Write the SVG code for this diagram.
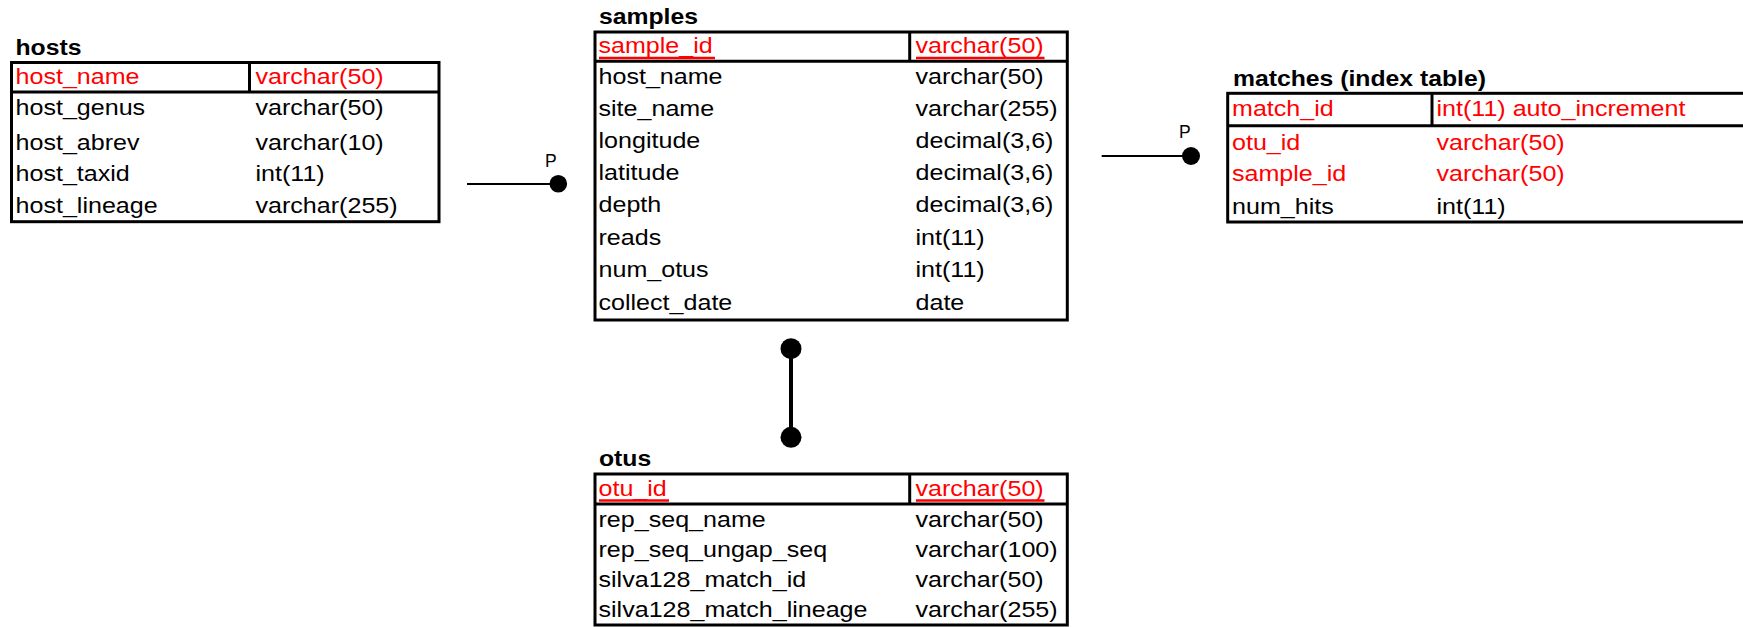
<svg xmlns="http://www.w3.org/2000/svg" width="1743" height="627" viewBox="0 0 1743 627">
<style>
text{font-family:"Liberation Sans",Arial,sans-serif}
.t{font-size:22.5px;fill:#000}
.k{fill:#ff0000}
.ti{font-size:22.5px;font-weight:bold;fill:#000}
.box{fill:none;stroke:#000;stroke-width:3}
.ul{stroke:#ff0000;stroke-width:2.4}
.p{font-size:17.5px;fill:#000}
</style>
<rect x="0" y="0" width="1743" height="627" fill="#fff"/>

<g id="hosts">
  <g transform="translate(15.5,55) scale(1.1,1)"><text class="ti" x="0" y="0">hosts</text></g>
  <rect class="box" x="11.5" y="62.5" width="427.5" height="159.2"/>
  <line class="box" x1="11.5" y1="92" x2="439" y2="92"/>
  <line class="box" x1="249.5" y1="62.5" x2="249.5" y2="92"/>
  <g transform="translate(15.5,0) scale(1.115,1)" class="t">
    <text class="t k" x="0" y="84.5">host_name</text>
    <text class="t" x="0" y="115.5">host_genus</text>
    <text class="t" x="0" y="150">host_abrev</text>
    <text class="t" x="0" y="181.5">host_taxid</text>
    <text class="t" x="0" y="213.5">host_lineage</text>
  </g>
  <g transform="translate(255.5,0) scale(1.115,1)">
    <text class="t k" x="0" y="84.5">varchar(50)</text>
    <text class="t" x="0" y="115.5">varchar(50)</text>
    <text class="t" x="0" y="150">varchar(10)</text>
    <text class="t" x="0" y="181">int(11)</text>
    <text class="t" x="0" y="213.5">varchar(255)</text>
  </g>
</g>

<g id="samples">
  <g transform="translate(599,23.5) scale(1.1,1)"><text class="ti" x="0" y="0">samples</text></g>
  <rect class="box" x="595" y="32" width="472.3" height="288"/>
  <line class="box" x1="595" y1="61.3" x2="1067.3" y2="61.3"/>
  <line class="box" x1="909.7" y1="32" x2="909.7" y2="61.3"/>
  <g transform="translate(598.5,0) scale(1.115,1)">
    <text class="t k" x="0" y="53.5">sample_id</text>
    <text class="t" x="0" y="84">host_name</text>
    <text class="t" x="0" y="116">site_name</text>
    <text class="t" x="0" y="148">longitude</text>
    <text class="t" x="0" y="180.5">latitude</text>
    <text class="t" x="0" y="212.5">depth</text>
    <text class="t" x="0" y="245">reads</text>
    <text class="t" x="0" y="277.5">num_otus</text>
    <text class="t" x="0" y="310">collect_date</text>
  </g>
  <g transform="translate(915.5,0) scale(1.115,1)">
    <text class="t k" x="0" y="53.5">varchar(50)</text>
    <text class="t" x="0" y="84">varchar(50)</text>
    <text class="t" x="0" y="116">varchar(255)</text>
    <text class="t" x="0" y="148">decimal(3,6)</text>
    <text class="t" x="0" y="180.5">decimal(3,6)</text>
    <text class="t" x="0" y="212.5">decimal(3,6)</text>
    <text class="t" x="0" y="245">int(11)</text>
    <text class="t" x="0" y="277.5">int(11)</text>
    <text class="t" x="0" y="310">date</text>
  </g>
  <line class="ul" x1="599" y1="58" x2="715" y2="58"/>
  <line class="ul" x1="916" y1="58" x2="1044.5" y2="58"/>
</g>

<g id="otus">
  <g transform="translate(599,465.5) scale(1.1,1)"><text class="ti" x="0" y="0">otus</text></g>
  <rect class="box" x="595" y="474" width="472.3" height="151"/>
  <line class="box" x1="595" y1="504" x2="1067.3" y2="504"/>
  <line class="box" x1="909.7" y1="474" x2="909.7" y2="504"/>
  <g transform="translate(598.5,0) scale(1.115,1)">
    <text class="t k" x="0" y="496">otu_id</text>
    <text class="t" x="0" y="527">rep_seq_name</text>
    <text class="t" x="0" y="557">rep_seq_ungap_seq</text>
    <text class="t" x="0" y="587.5">silva128_match_id</text>
    <text class="t" x="0" y="617.5">silva128_match_lineage</text>
  </g>
  <g transform="translate(915.5,0) scale(1.115,1)">
    <text class="t k" x="0" y="496">varchar(50)</text>
    <text class="t" x="0" y="527">varchar(50)</text>
    <text class="t" x="0" y="557">varchar(100)</text>
    <text class="t" x="0" y="587.5">varchar(50)</text>
    <text class="t" x="0" y="617.5">varchar(255)</text>
  </g>
  <line class="ul" x1="599" y1="500.5" x2="669" y2="500.5"/>
  <line class="ul" x1="916" y1="500.5" x2="1044.5" y2="500.5"/>
</g>

<g id="matches">
  <g transform="translate(1233,85.5) scale(1.1,1)"><text class="ti" x="0" y="0">matches (index table)</text></g>
  <rect class="box" x="1227.7" y="93.3" width="540" height="128.7"/>
  <line class="box" x1="1227.7" y1="125.7" x2="1760" y2="125.7"/>
  <line class="box" x1="1432" y1="93.3" x2="1432" y2="125.7"/>
  <g transform="translate(1232,0) scale(1.115,1)">
    <text class="t k" x="0" y="116.5">match_id</text>
    <text class="t k" x="0" y="150">otu_id</text>
    <text class="t k" x="0" y="181.5">sample_id</text>
    <text class="t" x="0" y="214.5">num_hits</text>
  </g>
  <g transform="translate(1436.5,0) scale(1.115,1)">
    <text class="t k" x="0" y="116.5">int(11) auto_increment</text>
    <text class="t k" x="0" y="150">varchar(50)</text>
    <text class="t k" x="0" y="181.5">varchar(50)</text>
    <text class="t" x="0" y="214.5">int(11)</text>
  </g>
</g>

<g id="connectors">
  <line x1="467" y1="184" x2="558" y2="184" stroke="#000" stroke-width="2"/>
  <circle cx="558.3" cy="183.7" r="8.8" fill="#000"/>
  <text class="p" x="545" y="166.5">P</text>
  <line x1="1101.7" y1="156" x2="1191" y2="156" stroke="#000" stroke-width="2"/>
  <circle cx="1191" cy="156" r="9" fill="#000"/>
  <text class="p" x="1179" y="137.5">P</text>
  <line x1="791" y1="348.7" x2="791" y2="437.3" stroke="#000" stroke-width="4"/>
  <circle cx="791" cy="348.7" r="10.5" fill="#000"/>
  <circle cx="791" cy="437.3" r="10.5" fill="#000"/>
</g>
</svg>
